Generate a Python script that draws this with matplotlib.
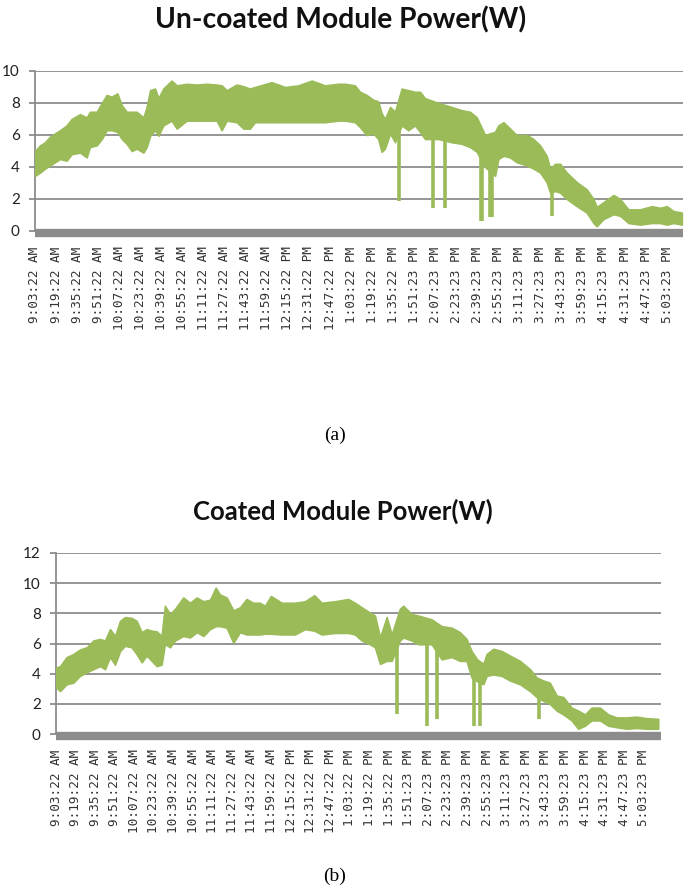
import matplotlib
matplotlib.use("Agg")
import matplotlib.pyplot as plt

# minutes after 9:03:22 AM, upper / lower edge of the noisy power band (W)
uc_t = [0, 3.8, 7.6, 11.4, 19.0, 24.0, 27.8, 34.2, 39.2, 41.7, 46.8, 50.7, 54.4, 58.2,
        62.5, 65.9, 69.6, 73.4, 77.2, 82.3, 84.8, 87.4, 91.1, 93.7, 97.4, 103.7, 107.6,
        115.2, 122.7, 130.4, 137.9, 141.7, 145.6, 153.1, 158.2, 163.2, 167.0, 179.7,
        189.8, 199.9, 210.1, 220.2, 230.3, 235.4, 242.9, 246.7, 251.8, 256.9, 260.6, 263.2,
        265.7, 269.6, 273.3, 278.4, 283.4, 288.5, 292.3, 296.1, 306.3, 316.3, 323.9,
        330.3, 335.4, 341.7, 349.3, 351.8, 355.7, 360.7, 365.7, 373.4, 378.4, 383.5,
        388.5, 391.1, 394.9, 398.7, 403.7, 411.4, 418.9, 424.0, 426.5, 431.6, 439.2,
        444.2, 450.6, 459.4, 468.2, 474.6, 479.7, 484.7, 491.1]
uc_hi = [5.0, 5.35, 5.55, 5.9, 6.3, 6.6, 7.0, 7.3, 7.1, 7.45, 7.45, 8.0, 8.5, 8.4,
         8.6, 7.85, 7.45, 7.45, 7.45, 7.1, 7.75, 8.8, 8.9, 8.3, 8.9, 9.4, 9.1,
         9.2, 9.15, 9.2, 9.15, 9.1, 8.8, 9.15, 9.05, 8.9, 9.0, 9.3,
         9.0, 9.1, 9.4, 9.1, 9.2, 9.2, 9.1, 8.7, 8.5, 8.2, 8.1, 7.35,
         7.0, 7.75, 7.45, 8.9, 8.8, 8.7, 8.7, 8.3, 8.0, 7.75, 7.55,
         7.45, 7.1, 6.0, 6.2, 6.6, 6.8, 6.4, 6.0, 6.0, 5.75, 5.35,
         4.7, 3.9, 4.2, 4.2, 3.65, 3.05, 2.6, 2.0, 1.5, 1.8, 2.25,
         2.0, 1.35, 1.35, 1.55, 1.45, 1.55, 1.25, 1.15]
uc_lo = [3.45, 3.65, 3.9, 4.1, 4.5, 4.4, 4.8, 4.9, 4.6, 5.25, 5.35, 5.75, 6.3, 6.3,
         6.2, 5.75, 5.45, 5.0, 5.15, 4.9, 5.25, 5.95, 6.3, 5.95, 6.6, 6.9, 6.4,
         6.9, 6.9, 6.9, 6.9, 6.3, 6.9, 6.8, 6.4, 6.4, 6.8, 6.8,
         6.8, 6.8, 6.8, 6.8, 6.9, 6.9, 6.8, 6.5, 6.0, 6.1, 5.75, 4.95,
         5.15, 6.1, 5.55, 6.6, 6.3, 6.6, 6.2, 5.75, 5.75, 5.55, 5.45,
         5.25, 4.95, 4.0, 3.45, 4.5, 4.7, 4.6, 4.3, 4.1, 3.9, 3.65,
         3.05, 2.4, 2.5, 2.4, 2.0, 1.55, 1.15, 0.5, 0.3, 0.75, 1.05,
         0.95, 0.5, 0.4, 0.5, 0.5, 0.4, 0.5, 0.4]
# short drops of the un-coated module: time, lowest value, value where it leaves the band
uc_dip_t = [276.3, 302.4, 311.3, 338.5, 339.5, 345.3, 347.2, 392.4]
uc_dip_lo = [1.9, 1.45, 1.45, 0.65, 0.65, 0.85, 0.85, 0.95]
uc_dip_hi = [6.5, 6.5, 6.5, 5.5, 5.5, 5.0, 5.0, 3.0]

c_t = [0, 3.3, 8.7, 14.1, 19.5, 25.1, 30.5, 35.9, 40.0, 44.1, 48.2, 52.3, 56.3, 61.7,
       65.8, 70.0, 74.0, 78.1, 82.2, 86.2, 88.9, 93.1, 97.2, 103.9, 109.4, 114.9,
       120.3, 125.7, 130.4, 133.8, 139.3, 144.8, 150.2, 155.6, 161.0, 166.5, 170.6,
       175.5, 184.3, 195.1, 203.3, 210.9, 216.9, 227.8, 238.6, 244.1, 249.6, 256.3,
       260.4, 264.6, 270.0, 274.1, 280.8, 283.5, 290.4, 295.8, 306.7, 314.9, 323.0,
       329.8, 335.2, 339.3, 343.9, 348.9, 351.6, 357.0, 363.9, 370.6, 378.8, 387.0,
       392.4, 397.8, 403.2, 408.8, 414.2, 421.0, 426.4, 431.9, 437.3, 444.1, 450.9,
       457.7, 465.9, 474.0, 482.2, 491.7]
c_hi = [4.4, 4.5, 5.1, 5.3, 5.6, 5.75, 6.2, 6.3, 6.2, 6.95, 6.5, 7.5, 7.75, 7.7,
        7.5, 6.75, 6.95, 6.85, 6.8, 6.5, 8.5, 7.95, 8.3, 9.05, 8.7, 9.05,
        8.8, 8.9, 9.7, 9.25, 9.05, 8.2, 8.4, 8.95, 8.7, 8.7, 8.5,
        9.15, 8.7, 8.7, 8.8, 9.2, 8.7, 8.8, 8.95, 8.7, 8.4, 8.05,
        7.85, 6.4, 7.75, 6.6, 8.3, 8.5, 7.95, 7.85, 7.6, 7.15, 7.05,
        6.75, 6.3, 5.5, 4.95, 4.65, 5.3, 5.65, 5.5, 5.2, 4.85, 4.3,
        3.75, 3.55, 3.4, 2.55, 2.45, 1.75, 1.55, 1.3, 1.75, 1.75, 1.3,
        1.1, 1.1, 1.15, 1.05, 1.0]
c_lo = [3.1, 2.85, 3.3, 3.4, 3.85, 4.1, 4.3, 4.5, 4.3, 5.1, 4.6, 5.5, 5.85, 5.75,
        5.3, 4.75, 5.2, 4.85, 4.5, 4.6, 5.95, 5.75, 6.2, 6.5, 6.4, 6.75,
        6.5, 6.95, 7.15, 7.15, 7.05, 6.05, 6.75, 6.6, 6.6, 6.6, 6.65,
        6.65, 6.6, 6.6, 6.95, 6.85, 6.6, 6.7, 6.7, 6.6, 6.2, 5.95,
        5.75, 4.65, 4.85, 4.85, 6.2, 6.4, 6.2, 5.95, 5.95, 4.95, 5.1,
        4.85, 4.85, 3.75, 3.5, 3.3, 3.85, 3.95, 3.85, 3.55, 3.3, 2.85,
        2.45, 2.2, 2.0, 1.55, 1.3, 0.9, 0.35, 0.55, 0.9, 0.9, 0.55,
        0.45, 0.35, 0.4, 0.35, 0.35]
c_dip_t = [278.1, 303.2, 310.8, 341.2, 346.1, 394.1]
c_dip_lo = [1.3, 0.55, 1.0, 0.55, 0.55, 1.0]
c_dip_hi = [6.0, 6.5, 6.0, 4.5, 4.0, 3.0]

tick_t = list(range(0, 481, 16))
tick_labels = ["9:03:22 AM", "9:19:22 AM", "9:35:22 AM", "9:51:22 AM", "10:07:22 AM",
               "10:23:22 AM", "10:39:22 AM", "10:55:22 AM", "11:11:22 AM", "11:27:22 AM",
               "11:43:22 AM", "11:59:22 AM", "12:15:22 PM", "12:31:22 PM", "12:47:22 PM",
               "1:03:22 PM", "1:19:22 PM", "1:35:22 PM", "1:51:23 PM", "2:07:23 PM",
               "2:23:23 PM", "2:39:23 PM", "2:55:23 PM", "3:11:23 PM", "3:27:23 PM",
               "3:43:23 PM", "3:59:23 PM", "4:15:23 PM", "4:31:23 PM", "4:47:23 PM",
               "5:03:23 PM"]

GREEN = "#9bbb59"
GRID = "#8c8c8c"

fig = plt.figure(figsize=(6.85, 8.90), dpi=100)


def draw_panel(rect, t, hi, lo, dt, dlo, dhi, yticks, xmax):
    ax = fig.add_axes(rect)
    ax.fill_between(t, lo, hi, color=GREEN, linewidth=1.2, edgecolor=GREEN, zorder=3)
    ax.vlines(dt, dlo, dhi, color=GREEN, linewidth=2.6, zorder=3)
    ax.set_xlim(0, xmax)
    ax.set_ylim(0, yticks[-1])
    ax.set_yticks(yticks)
    ax.yaxis.grid(True, color=GRID, linewidth=1.3)
    ax.set_axisbelow(True)
    for s in ("top", "right", "bottom"):
        ax.spines[s].set_visible(False)
    ax.spines["left"].set_color(GRID)
    ax.spines["left"].set_linewidth(1.3)
    # thick grey floor of the category axis
    ax.axhline(-yticks[-1] * 0.012, color=GRID, linewidth=6, clip_on=False, zorder=2,
               solid_capstyle="butt")
    ax.tick_params(axis="y", length=4, color=GRID, width=1.3, pad=7,
                   labelsize=11, labelcolor="#222222")
    for lab in ax.get_yticklabels():
        lab.set_family("Lato")
    ax.set_xticks(tick_t)
    ax.set_xticklabels(tick_labels, rotation=90, family="DejaVu Sans Mono",
                       fontsize=9.2, color="#333333")
    ax.tick_params(axis="x", length=0, pad=11)
    return ax


draw_panel([35 / 685, (890 - 231) / 890, 648 / 685, 160 / 890],
           uc_t, uc_hi, uc_lo, uc_dip_t, uc_dip_lo, uc_dip_hi,
           [0, 2, 4, 6, 8, 10], 492)
draw_panel([56 / 685, (890 - 734) / 890, 605 / 685, 181 / 890],
           c_t, c_hi, c_lo, c_dip_t, c_dip_lo, c_dip_hi,
           [0, 2, 4, 6, 8, 10, 12], 494)

fig.text(341 / 685, 1 - 20 / 890, "Un-coated Module Power(W)", ha="center", va="center",
         family="Lato", fontweight="bold", fontsize=20.3, color="#111111")
fig.text(343 / 685, 1 - 511 / 890, "Coated Module Power(W)", ha="center", va="center",
         family="Lato", fontweight="bold", fontsize=18.5, color="#111111")
fig.text(335 / 685, 1 - 435 / 890, "(a)", ha="center", va="center",
         family="Liberation Serif", fontsize=14)
fig.text(335 / 685, 1 - 876 / 890, "(b)", ha="center", va="center",
         family="Liberation Serif", fontsize=14)

fig.savefig("out.png", dpi=100)
